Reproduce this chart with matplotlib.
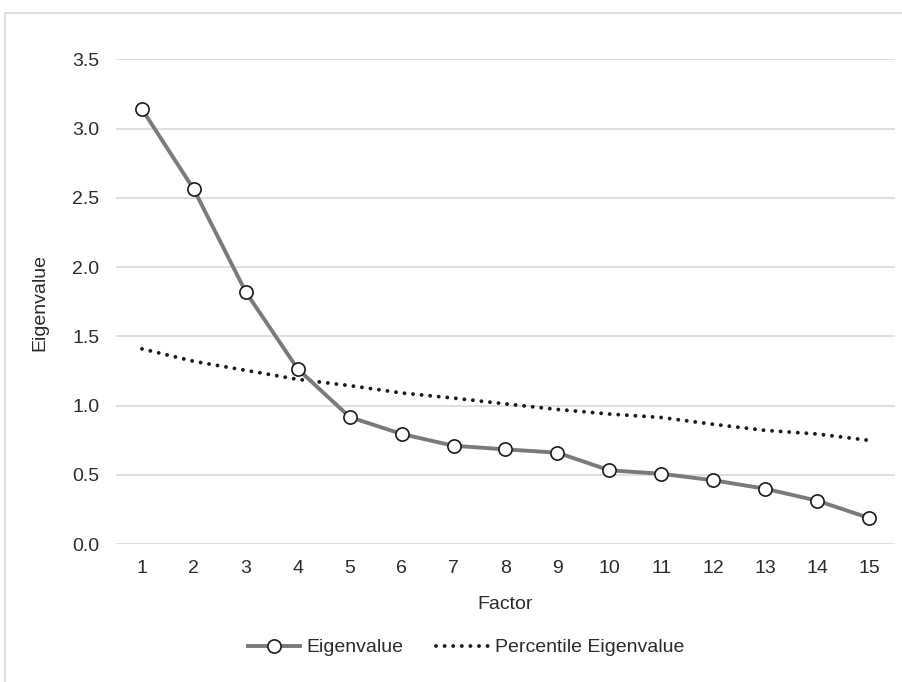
import matplotlib
matplotlib.use("Agg")
import matplotlib.pyplot as plt
from matplotlib.lines import Line2D

factors = list(range(1, 16))
factor_labels = [str(f) for f in factors]
eigenvalues = [3.14, 2.56, 1.82, 1.265, 0.918, 0.796, 0.711, 0.685, 0.661,
               0.534, 0.509, 0.462, 0.401, 0.315, 0.19]
percentile = [1.41, 1.32, 1.255, 1.19, 1.145, 1.092, 1.055, 1.013, 0.973,
              0.94, 0.915, 0.866, 0.822, 0.796, 0.75]
y_ticks = [0.0, 0.5, 1.0, 1.5, 2.0, 2.5, 3.0, 3.5]

plt.rcParams['font.family'] = ['Liberation Sans', 'DejaVu Sans']
text_color = '#2b2b2b'
fs = 14

W, H = 903, 682
fig = plt.figure(figsize=(W / 100, H / 100), dpi=100)
ax = fig.add_axes([116 / W, 1 - 544.3 / H, (895 - 116) / W, (544.3 - 59.2) / H])

ax.plot(factors, percentile, linestyle=(0, (0.01, 2.2)), color='#1a1a1a',
        linewidth=2.8, dash_capstyle='round', label='Percentile Eigenvalue',
        zorder=3)
ax.plot(factors, eigenvalues, color='#7a7a7a', linewidth=2.8, marker='o',
        markersize=9.5, markerfacecolor='white', markeredgecolor='#1a1a1a',
        markeredgewidth=1.2, label='Eigenvalue', zorder=4)

ax.set_xlim(0.5, 15.5)
ax.set_ylim(0, 3.5)
ax.set_xticks(factors)
ax.set_xticklabels(factor_labels)
ax.set_yticks(y_ticks)
ax.set_yticklabels([f"{v:.1f}" for v in y_ticks])
ax.tick_params(axis='both', length=0, labelsize=fs, colors=text_color)
ax.tick_params(axis='x', pad=11)
ax.tick_params(axis='y', pad=12)
for s in ax.spines.values():
    s.set_visible(False)
ax.grid(axis='y', color='#d9d9d9', linewidth=1.2)
ax.set_axisbelow(True)

fig.text(505 / W, 1 - 604.5 / H, 'Factor', ha='center', va='center',
         fontsize=fs, color=text_color)
fig.text(40 / W, 1 - 302 / H, 'Eigenvalue', ha='center', va='center',
         rotation=90, fontsize=fs, color=text_color)

handles, labels = ax.get_legend_handles_labels()
order = [1, 0]
leg = fig.legend([handles[i] for i in order], [labels[i] for i in order],
                 loc='center', bbox_to_anchor=(466 / W, 1 - 647.5 / H), ncol=2,
                 frameon=False, fontsize=fs, handlelength=2.7,
                 handletextpad=0.3, columnspacing=1.7)
for t in leg.get_texts():
    t.set_color(text_color)

# outer chart border (top and left visible)
border_color = '#d9d9d9'
fig.add_artist(Line2D([5 / W, 1.0], [1 - 13 / H, 1 - 13 / H],
                      transform=fig.transFigure, color=border_color, linewidth=1.2))
fig.add_artist(Line2D([5 / W, 5 / W], [0.0, 1 - 13 / H],
                      transform=fig.transFigure, color=border_color, linewidth=1.2))

fig.savefig('out.png', dpi=100)
